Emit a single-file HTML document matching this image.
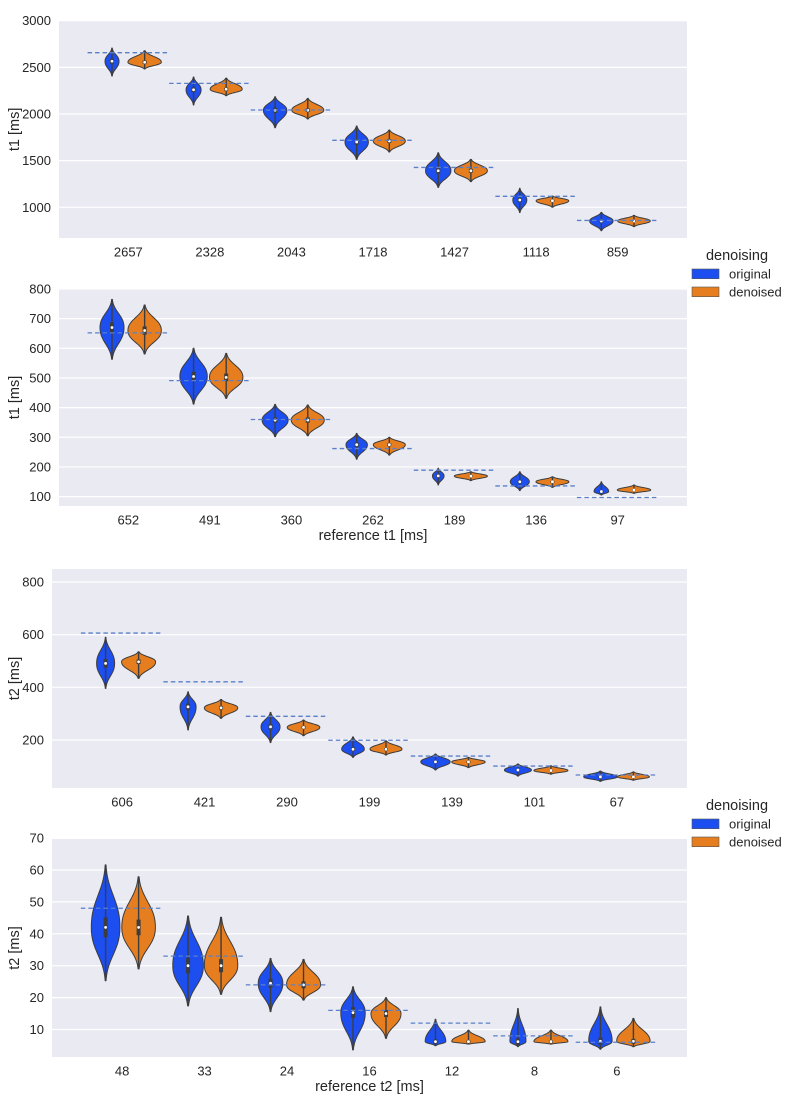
<!DOCTYPE html>
<html><head><meta charset="utf-8"><style>
html,body{margin:0;padding:0;background:#fff;}
svg{display:block;font-family:"Liberation Sans",Arial,sans-serif;}
</style></head><body>
<svg id="chart" width="794" height="1099" viewBox="0 0 794 1099" xmlns="http://www.w3.org/2000/svg"></svg>
<script>
// Panel 1: t1 (high range)
const p1Categories = ["2657","2328","2043","1718","1427","1118","859"];
const p1Ref = [2657,2328,2043,1718,1427,1118,859];
const p1OrigMode = [2565,2260,2040,1700,1392,1078,853];
const p1OrigLo = [2407,2097,1853,1514,1214,943,749];
const p1OrigHi = [2707,2397,2185,1871,1585,1204,946];
const p1OrigDensity = [7,7.5,11.7,11.7,12.7,7,11.7];
const p1DenMode = [2555,2265,2040,1710,1392,1070,853];
const p1DenLo = [2483,2196,1947,1593,1275,1000,793];
const p1DenHi = [2678,2385,2168,1828,1514,1121,914];
const p1DenDensity = [16.7,16,16,16,16.5,16.3,16.3];
const p1Ticks = [1000,1500,2000,2500,3000];

// Panel 2: t1 (low range)
const p2Categories = ["652","491","360","262","189","136","97"];
const p2Ref = [652,491,360,262,189,136,97];
const p2OrigMode = [670,505,358,275,170,150,117];
const p2OrigLo = [563,412,302,226,139,120,105];
const p2OrigHi = [765,600,411,313,196,184,150];
const p2OrigDensity = [12,13.7,13,10.7,5.8,9.5,7.3];
const p2DenMode = [660,502,358,275,169,150,122];
const p2DenLo = [581,431,305,240,154,131,111];
const p2DenHi = [746,583,409,300,184,167,139];
const p2DenDensity = [16.7,16.7,16.5,16,16.5,16.5,16.7];
const p2Ticks = [100,200,300,400,500,600,700,800];

// Panel 3: t2 (high range)
const p3Categories = ["606","421","290","199","139","101","67"];
const p3Ref = [606,421,290,199,139,101,67];
const p3OrigMode = [491,326,250,165,117,86,60];
const p3OrigLo = [396,238,190,134,86,63,43];
const p3OrigHi = [590,383,305,212,147,109,82];
const p3OrigDensity = [9,8,9.5,11.3,14.7,13.5,16.7];
const p3DenMode = [497,322,248,165,117,84,60];
const p3DenLo = [434,282,216,143,95,70,47];
const p3DenHi = [535,354,276,197,134,102,79];
const p3DenDensity = [17,16.7,16.3,16,16.7,17,16];
const p3Ticks = [200,400,600,800];

// Panel 4: t2 (low range)
const p4Categories = ["48","33","24","16","12","8","6"];
const p4Ref = [48,33,24,16,12,8,6];
const p4OrigMode = [42,30,24.5,15.3,6.2,6.2,6.3];
const p4OrigLo = [25.3,17.4,15.6,3.6,4.9,4.6,3.8];
const p4OrigHi = [61.6,45.6,32.3,23.4,13.2,16.6,17.1];
const p4OrigDensity = [14.3,15.3,12.3,12.2,10.3,8,11.7];
const p4DenMode = [42,30,24,15,6.2,6.2,6.3];
const p4DenLo = [29,21,19.2,7.2,5.4,5.4,4.6];
const p4DenHi = [57.9,45.2,32,20,9.8,9.8,13.5];
const p4DenDensity = [16.8,16.7,17,15,16.7,17,16.7];
const p4Ticks = [10,20,30,40,50,60,70];

const NS = "http://www.w3.org/2000/svg";
const svg = document.getElementById("chart");
function mk(tag, attrs, parent){
  const e = document.createElementNS(NS, tag);
  for (const k in attrs) e.setAttribute(k, attrs[k]);
  (parent||svg).appendChild(e);
  return e;
}
const BLUE="#1c4ef0", ORANGE="#e67e1f", EDGE="#3d3d3d", TXT="#262626";

function violinPath(cx, yScale, lo, hi, mode, w){
  const n = 40, right = [], left = [];
  for (let i=0;i<=n;i++){
    const v = lo + (hi-lo)*i/n;
    let t;
    if (v >= mode) t = (hi-mode) > 0 ? (v-mode)/(hi-mode) : 1;
    else t = (mode-lo) > 0 ? (mode-v)/(mode-lo) : 1;
    const hw = w*Math.exp(-2.6*t*t*t*0.9 - 1.2*t*t);
    const y = yScale(v);
    right.push([cx+hw, y]); left.push([cx-hw, y]);
  }
  let d = "M"+cx+","+yScale(lo).toFixed(2);
  right.forEach(p=>{ d += " L"+p[0].toFixed(2)+","+p[1].toFixed(2); });
  d += " L"+cx+","+yScale(hi).toFixed(2);
  for (let i=left.length-1;i>=0;i--) d += " L"+left[i][0].toFixed(2)+","+left[i][1].toFixed(2);
  return d+" Z";
}

function drawPanel(o){
  const g = mk("g", {});
  
  
  const yScale = v => o.yA + (v - o.vA)*(o.yB - o.yA)/(o.vB - o.vA);
  const band = (o.x1 - o.x0)/7.7;
  const xc = i => o.x0 + (i + 0.85)*band;
  const bg = mk("rect", {x:o.x0, y:o.top, width:o.x1-o.x0, height:o.bot-o.top, fill:"#eaeaf2"}, g);
  
  
  o.ticks.forEach(t=>{
    const y = yScale(t);
    const gl = mk("line", {x1:o.x0, x2:o.x1, y1:y, y2:y, stroke:"#fff", "stroke-width":1.2}, g);
    
    
    const tl = mk("text", {x:o.tickX, y:y+4.5, "text-anchor":"end", "font-size":13, fill:TXT}, g);
    tl.textContent = t;
    
    
  });
  const yl = mk("text", {x:0, y:0, transform:"translate(19,"+((o.top+o.bot)/2)+") rotate(-90)", "text-anchor":"middle", "font-size":14.5, fill:TXT}, g);
  yl.textContent = o.ylabel;
  
  
  o.cats.forEach((c,i)=>{
    const x = xc(i);
    const tl = mk("text", {x:x, y:o.bot+18.5, "text-anchor":"middle", "font-size":13, fill:TXT}, g);
    tl.textContent = c;
    
    
    const series = [
      [x-0.2*band, o.oLo[i], o.oHi[i], o.oMode[i], o.oW[i], BLUE, 'violin-original'],
      [x+0.2*band, o.dLo[i], o.dHi[i], o.dMode[i], o.dW[i], ORANGE, 'violin-denoised']
    ];
    series.forEach(s=>{
      const [cx, lo, hi, md, w, col, nm] = s;
      const p = mk("path", {d:violinPath(cx, yScale, lo, hi, md, w), fill:col, stroke:EDGE, "stroke-width":1, "stroke-linejoin":"round"}, g);
      
      
      const wl = mk("line", {x1:cx, x2:cx, y1:yScale(lo), y2:yScale(hi), stroke:EDGE, "stroke-width":1.4}, g);
      
      
      const q = 0.085*(hi-lo);
      const bx = mk("line", {x1:cx, x2:cx, y1:yScale(md-q), y2:yScale(md+q), stroke:EDGE, "stroke-width":4}, g);
      
      
      const dt = mk("circle", {cx:cx, cy:yScale(md), r:1.4, fill:"#fff"}, g);
      
      
    });
    const y = yScale(o.ref[i]);
    const rl = mk("line", {x1:x-0.5*band, x2:x+0.5*band, y1:y, y2:y, stroke:"#5b80c8", "stroke-width":1.3, "stroke-dasharray":"4.5,3"}, g);
    
    
  });
  if (o.xlabel){
    const xl = mk("text", {x:(o.x0+o.x1)/2, y:o.bot+34, "text-anchor":"middle", "font-size":14.5, fill:TXT}, g);
    xl.textContent = o.xlabel;
    
    
  }
}

function drawLegend(yTitle){
  const g = mk("g", {});
  
  
  const t = mk("text", {x:737, y:yTitle+5, "text-anchor":"middle", "font-size":14.5, fill:TXT}, g);
  t.textContent = "denoising";
  
  
  [["original",BLUE],["denoised",ORANGE]].forEach((e,i)=>{
    const yy = yTitle + 14 + i*18;
    const r = mk("rect", {x:692, y:yy, width:27, height:9.7, fill:e[1], stroke:"#555", "stroke-width":0.6}, g);
    
    
    const tx = mk("text", {x:729, y:yy+9.3, "font-size":13, fill:TXT}, g);
    tx.textContent = e[0];
    
    
  });
}

drawPanel({name:"panel-t1-high", x0:59, x1:687, top:20.7, bot:238, vA:3000, yA:20.7, vB:1000, yB:207.3, tickX:51,
  ticks:p1Ticks, cats:p1Categories, ref:p1Ref, oMode:p1OrigMode, oLo:p1OrigLo, oHi:p1OrigHi, oW:p1OrigDensity,
  dMode:p1DenMode, dLo:p1DenLo, dHi:p1DenHi, dW:p1DenDensity, ylabel:"t1 [ms]", xlabel:null});
drawPanel({name:"panel-t1-low", x0:59, x1:687, top:289, bot:506, vA:800, yA:289, vB:100, yB:496.6, tickX:51,
  ticks:p2Ticks, cats:p2Categories, ref:p2Ref, oMode:p2OrigMode, oLo:p2OrigLo, oHi:p2OrigHi, oW:p2OrigDensity,
  dMode:p2DenMode, dLo:p2DenLo, dHi:p2DenHi, dW:p2DenDensity, ylabel:"t1 [ms]", xlabel:"reference t1 [ms]"});
drawPanel({name:"panel-t2-high", x0:52, x1:687, top:569, bot:788, vA:800, yA:582, vB:200, yB:740, tickX:44,
  ticks:p3Ticks, cats:p3Categories, ref:p3Ref, oMode:p3OrigMode, oLo:p3OrigLo, oHi:p3OrigHi, oW:p3OrigDensity,
  dMode:p3DenMode, dLo:p3DenLo, dHi:p3DenHi, dW:p3DenDensity, ylabel:"t2 [ms]", xlabel:null});
drawPanel({name:"panel-t2-low", x0:52, x1:687, top:839, bot:1057, vA:60, yA:870, vB:10, yB:1029.5, tickX:44,
  ticks:p4Ticks, cats:p4Categories, ref:p4Ref, oMode:p4OrigMode, oLo:p4OrigLo, oHi:p4OrigHi, oW:p4OrigDensity,
  dMode:p4DenMode, dLo:p4DenLo, dHi:p4DenHi, dW:p4DenDensity, ylabel:"t2 [ms]", xlabel:"reference t2 [ms]"});
drawLegend(255);
drawLegend(805);
</script>
</body></html>
